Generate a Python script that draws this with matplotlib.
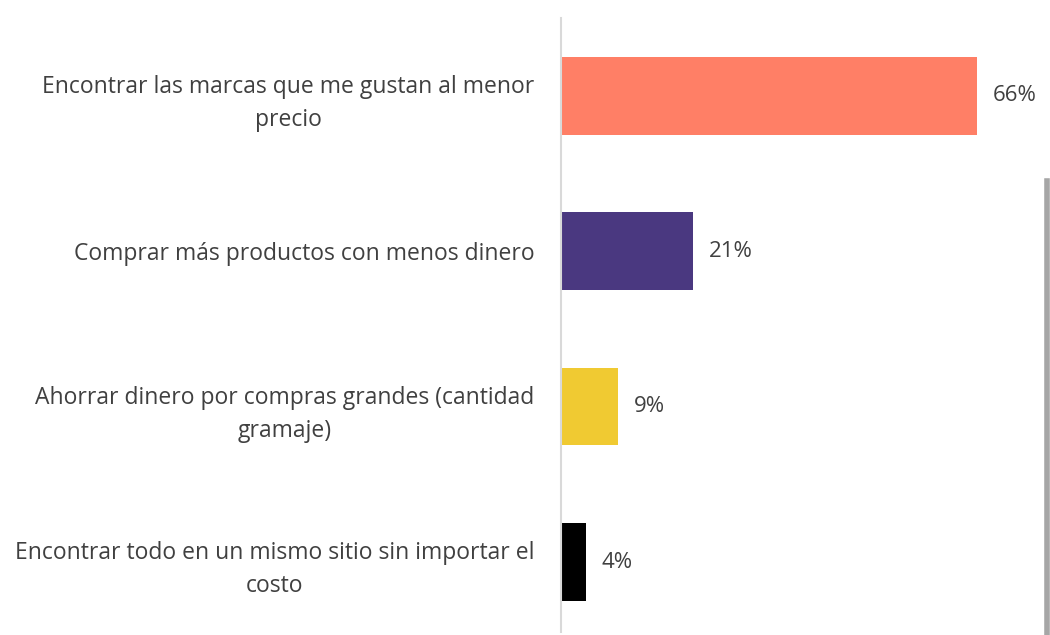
import matplotlib.pyplot as plt
from matplotlib.lines import Line2D

labels = ["Encontrar las marcas que me gustan al menor\nprecio",
          "Comprar más productos con menos dinero",
          "Ahorrar dinero por compras grandes (cantidad\ngramaje)",
          "Encontrar todo en un mismo sitio sin importar el\ncosto"]
values = [66, 21, 9, 4]
colors = ["#FF7F66", "#4A3880", "#F0CA32", "#000000"]

plt.rcParams['font.family'] = ['Open Sans', 'DejaVu Sans']

fig = plt.figure(figsize=(10.5, 6.35), dpi=100)
ax = fig.add_axes([561/1050, 3/635, 485/1050, 614/635])

ypos = range(len(values))
ax.barh(ypos, values, height=0.5, color=colors)
ax.set_xlim(0, 76.9)
ax.set_ylim(3.45, -0.5)

for y, v in zip(ypos, values):
    ax.text(v + 2.5, y, f"{v}%", va='center', ha='left', fontsize=16, color='#404040')

ax.set_yticks(list(ypos))
ax.set_yticklabels(labels, multialignment='center', fontsize=16.5, color='#404040',
                   linespacing=1.5)
ax.tick_params(axis='y', length=0, pad=19)
ax.set_xticks([])
for s in ['top', 'right', 'bottom']:
    ax.spines[s].set_visible(False)
ax.spines['left'].set_color('#D9D9D9')
ax.spines['left'].set_linewidth(1.5)

# grey line at the right edge
fig.add_artist(Line2D([1046.5/1050, 1046.5/1050], [0, (635-181)/635],
                      transform=fig.transFigure, color='#A6A6A6', linewidth=4))

fig.savefig("out.png", dpi=100)
